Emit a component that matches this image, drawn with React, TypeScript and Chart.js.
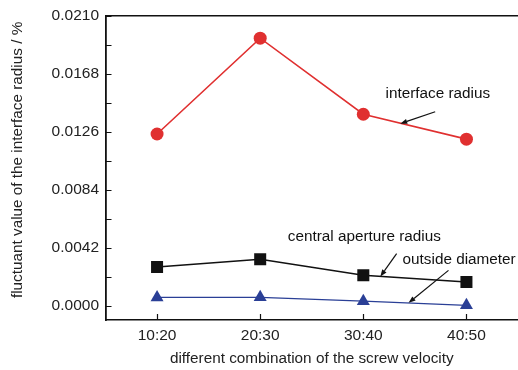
import React, { useEffect, useRef } from "react";
import { Chart, registerables } from "chart.js";

Chart.register(...registerables);

const categories = ["10:20", "20:30", "30:40", "40:50"];
const interfaceRadius = [0.01245, 0.01938, 0.01388, 0.01208];
const centralApertureRadius = [0.00283, 0.00339, 0.00223, 0.00175];
const outsideDiameter = [0.00063, 0.00064, 0.00036, 0.00006];
const yTickValues = [0, 0.0021, 0.0042, 0.0063, 0.0084, 0.0105, 0.0126, 0.0147, 0.0168, 0.0189, 0.021];
const yLabelledTicks = [0, 0.0042, 0.0084, 0.0126, 0.0168, 0.021];
const yTitle = "fluctuant value of the interface radius / %";
const xTitle = "different combination of the screw velocity";

// annotation texts with anchors in data units (category index, value)
const annotations = [
  { text: "interface radius", x: 2.216, y: 0.01534, from: [2.697, 0.01406], to: [2.358, 0.0132] },
  { text: "central aperture radius", x: 1.268, y: 0.00504, from: [2.323, 0.0038], to: [2.165, 0.00214] },
  { text: "outside diameter", x: 2.381, y: 0.00338, from: [2.826, 0.00259], to: [2.439, 0.00024] },
];

const FONT = "'Liberation Sans', Arial, sans-serif";

const framePlugin = {
  id: "frame",
  afterDraw(chart: any) {
    const { ctx, chartArea } = chart;
    const xs = chart.scales.x;
    const ys = chart.scales.y;
    ctx.save();
    ctx.strokeStyle = "#111";
    ctx.lineWidth = 1.5;
    ctx.beginPath();
    ctx.moveTo(chartArea.left, chartArea.top);
    ctx.lineTo(chartArea.right, chartArea.top);
    ctx.stroke();
    ctx.lineWidth = 1.2;
    ctx.beginPath();
    for (const v of yTickValues) {
      const py = Math.round(ys.getPixelForValue(v)) + 0.5;
      ctx.moveTo(chartArea.left, py);
      ctx.lineTo(chartArea.left + 6, py);
    }
    for (let i = 0; i < categories.length; i++) {
      const px = Math.round(xs.getPixelForValue(i)) + 0.5;
      ctx.moveTo(px, chartArea.bottom);
      ctx.lineTo(px, chartArea.bottom - 6);
    }
    ctx.stroke();

    // y axis title
    ctx.fillStyle = "#222";
    ctx.font = `15.3px ${FONT}`;
    ctx.textAlign = "center";
    ctx.textBaseline = "middle";
    ctx.save();
    ctx.translate(17.5, (chartArea.top + chartArea.bottom) / 2 - 8);
    ctx.rotate(-Math.PI / 2);
    ctx.fillText(yTitle, 0, 0);
    ctx.restore();

    // annotations
    ctx.fillStyle = "#111";
    ctx.textAlign = "left";
    const xp = (v: number) => xs.left + ((v + 0.5) / categories.length) * (xs.right - xs.left);
    for (const a of annotations) {
      ctx.fillText(a.text, xp(a.x), ys.getPixelForValue(a.y));
      const x1 = xp(a.from[0]);
      const y1 = ys.getPixelForValue(a.from[1]);
      const x2 = xp(a.to[0]);
      const y2 = ys.getPixelForValue(a.to[1]);
      const ang = Math.atan2(y2 - y1, x2 - x1);
      const hl = 7;
      const hw = 2.6;
      const bx = x2 - hl * Math.cos(ang);
      const by = y2 - hl * Math.sin(ang);
      ctx.lineWidth = 1.2;
      ctx.strokeStyle = "#111";
      ctx.beginPath();
      ctx.moveTo(x1, y1);
      ctx.lineTo(bx, by);
      ctx.stroke();
      ctx.beginPath();
      ctx.moveTo(x2, y2);
      ctx.lineTo(bx + hw * Math.sin(ang), by - hw * Math.cos(ang));
      ctx.lineTo(bx - hw * Math.sin(ang), by + hw * Math.cos(ang));
      ctx.closePath();
      ctx.fill();
    }
    ctx.restore();
  },
};

export default function App() {
  const ref = useRef<HTMLCanvasElement | null>(null);
  useEffect(() => {
    if (!ref.current) return;
    const chart = new Chart(ref.current, {
      type: "line",
      data: {
        labels: categories,
        datasets: [
          {
            label: "interface radius",
            data: interfaceRadius,
            borderColor: "#e03030",
            backgroundColor: "#e03030",
            borderWidth: 1.6,
            pointStyle: "circle",
            pointRadius: 6.5,
            pointBorderWidth: 0,
          },
          {
            label: "central aperture radius",
            data: centralApertureRadius,
            borderColor: "#111111",
            backgroundColor: "#111111",
            borderWidth: 1.5,
            pointStyle: "rect",
            pointRadius: 8.5,
            pointBorderWidth: 0,
          },
          {
            label: "outside diameter",
            data: outsideDiameter,
            borderColor: "#2a3f96",
            backgroundColor: "#2a3f96",
            borderWidth: 1.2,
            pointStyle: "triangle",
            pointRadius: 7.5,
            pointBorderWidth: 0,
          },
        ],
      },
      options: {
        responsive: false,
        devicePixelRatio: 1,
        animation: false,
        layout: { autoPadding: false, padding: { top: 14, right: 0, left: 0, bottom: 0 } },
        plugins: { legend: { display: false }, tooltip: { enabled: false } },
        scales: {
          x: {
            type: "category",
            offset: true,
            grid: { display: true, drawOnChartArea: false, drawTicks: false },
            border: { display: true, color: "#111", width: 1.5 },
            ticks: { color: "#222", font: { size: 15.5, family: FONT }, padding: 6.5, maxRotation: 0 },
            title: {
              display: true,
              text: xTitle,
              color: "#222",
              font: { size: 15.3, family: FONT },
              padding: { top: 0, bottom: 1.8 },
            },
            afterFit: (s: any) => {
              s.height = 50;
            },
          },
          y: {
            type: "linear",
            min: -0.001,
            max: 0.021,
            grid: { display: true, drawOnChartArea: false, drawTicks: false },
            border: { display: true, color: "#111", width: 1.8 },
            afterBuildTicks: (s: any) => {
              s.ticks = yTickValues.map((v) => ({ value: v }));
            },
            ticks: {
              color: "#222",
              font: { size: 15.5, family: FONT },
              padding: 6.5,
              callback: (v: any) => {
                const n = Number(v);
                return yLabelledTicks.some((t) => Math.abs(t - n) < 1e-7) ? n.toFixed(4) : "";
              },
            },
            afterFit: (s: any) => {
              s.width = 105.5;
            },
          },
        },
      },
      plugins: [framePlugin],
    });
    return () => chart.destroy();
  }, []);
  return (
    <div style={{ position: "fixed", left: 0, top: 0, width: 518, height: 370, background: "#fff" }}>
      <canvas ref={ref} width={518} height={370} />
    </div>
  );
}
